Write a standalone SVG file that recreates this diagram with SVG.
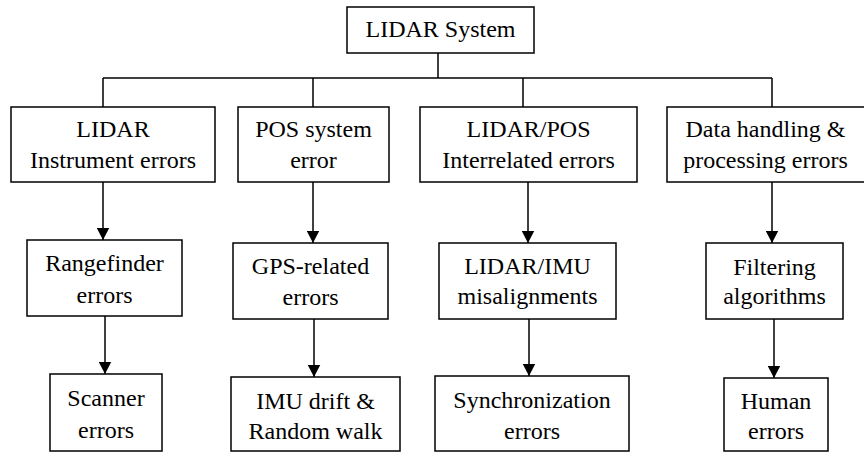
<svg xmlns="http://www.w3.org/2000/svg" width="864" height="452" viewBox="0 0 864 452">
  <style>
    .box { fill: #ffffff; stroke: #000000; stroke-width: 1.5; }
    .lbl { font-family: 'Liberation Serif', 'Times New Roman', serif; font-size: 24px; fill: #000000; text-anchor: middle; }
    .wire { fill: none; stroke: #000000; stroke-width: 1.5; }
    .arrow { fill: none; stroke: #000000; stroke-width: 1.5; marker-end: url(#head); }
  </style>
  <defs>
    <marker id="head" markerUnits="userSpaceOnUse" markerWidth="13" markerHeight="13" viewBox="0 0 13 13" refX="12.5" refY="6.5" orient="auto">
      <path d="M0,0 L12.5,6.5 L0,13 Z" fill="#000000"/>
    </marker>
  </defs>
  <rect width="864" height="452" fill="#ffffff"/>

  <!-- connectors: bus from the root, then arrows down each column -->
  <g id="connectors">
    <path class="wire" d="M438,53 V78 M103,78 H772 M103,78 V107 M313,78 V107 M523,78 V107 M772,78 V107"/>
    <line class="arrow" x1="103" y1="182" x2="103" y2="240"/>
    <line class="arrow" x1="313" y1="182" x2="313" y2="243"/>
    <line class="arrow" x1="528" y1="182" x2="528" y2="243"/>
    <line class="arrow" x1="772" y1="182" x2="772" y2="243"/>
    <line class="arrow" x1="105" y1="316" x2="105" y2="374"/>
    <line class="arrow" x1="314" y1="319" x2="314" y2="377"/>
    <line class="arrow" x1="529" y1="319" x2="529" y2="376"/>
    <line class="arrow" x1="774" y1="319" x2="774" y2="378"/>
  </g>

  <!-- root -->
  <g id="lidar-system">
    <rect class="box" x="347" y="7" width="187" height="46"/>
    <text class="lbl" x="440.5" y="37">LIDAR System</text>
  </g>

  <!-- error categories -->
  <g id="instrument-errors">
    <rect class="box" x="11" y="107" width="204" height="75"/>
    <text class="lbl" x="113" y="137">LIDAR</text>
    <text class="lbl" x="113" y="168">Instrument errors</text>
  </g>
  <g id="pos-error">
    <rect class="box" x="238" y="107" width="151" height="75"/>
    <text class="lbl" x="313.5" y="137">POS system</text>
    <text class="lbl" x="313.5" y="168">error</text>
  </g>
  <g id="interrelated-errors">
    <rect class="box" x="420" y="107" width="217" height="75"/>
    <text class="lbl" x="528.5" y="137">LIDAR/POS</text>
    <text class="lbl" x="528.5" y="168">Interrelated errors</text>
  </g>
  <g id="processing-errors">
    <rect class="box" x="667" y="107" width="202" height="75"/>
    <text class="lbl" x="765.5" y="137">Data handling &amp;</text>
    <text class="lbl" x="765.5" y="168">processing errors</text>
  </g>

  <!-- second level -->
  <g id="rangefinder">
    <rect class="box" x="27" y="240" width="155" height="76"/>
    <text class="lbl" x="104.5" y="271">Rangefinder</text>
    <text class="lbl" x="104.5" y="303">errors</text>
  </g>
  <g id="gps">
    <rect class="box" x="233" y="243" width="155" height="76"/>
    <text class="lbl" x="310.5" y="274">GPS-related</text>
    <text class="lbl" x="310.5" y="305">errors</text>
  </g>
  <g id="misalignments">
    <rect class="box" x="439" y="243" width="177" height="76"/>
    <text class="lbl" x="527.5" y="274">LIDAR/IMU</text>
    <text class="lbl" x="527.5" y="304">misalignments</text>
  </g>
  <g id="filtering">
    <rect class="box" x="706" y="243" width="137" height="76"/>
    <text class="lbl" x="774.5" y="275">Filtering</text>
    <text class="lbl" x="774.5" y="304">algorithms</text>
  </g>

  <!-- third level -->
  <g id="scanner">
    <rect class="box" x="50" y="374" width="112" height="77"/>
    <text class="lbl" x="106" y="406">Scanner</text>
    <text class="lbl" x="106" y="438">errors</text>
  </g>
  <g id="imu-drift">
    <rect class="box" x="231" y="377" width="169" height="74"/>
    <text class="lbl" x="315.5" y="409">IMU drift &amp;</text>
    <text class="lbl" x="315.5" y="439">Random walk</text>
  </g>
  <g id="synchronization">
    <rect class="box" x="435" y="376" width="194" height="75"/>
    <text class="lbl" x="532" y="408">Synchronization</text>
    <text class="lbl" x="532" y="439">errors</text>
  </g>
  <g id="human">
    <rect class="box" x="724" y="378" width="104" height="73"/>
    <text class="lbl" x="776" y="409">Human</text>
    <text class="lbl" x="776" y="439">errors</text>
  </g>
</svg>
